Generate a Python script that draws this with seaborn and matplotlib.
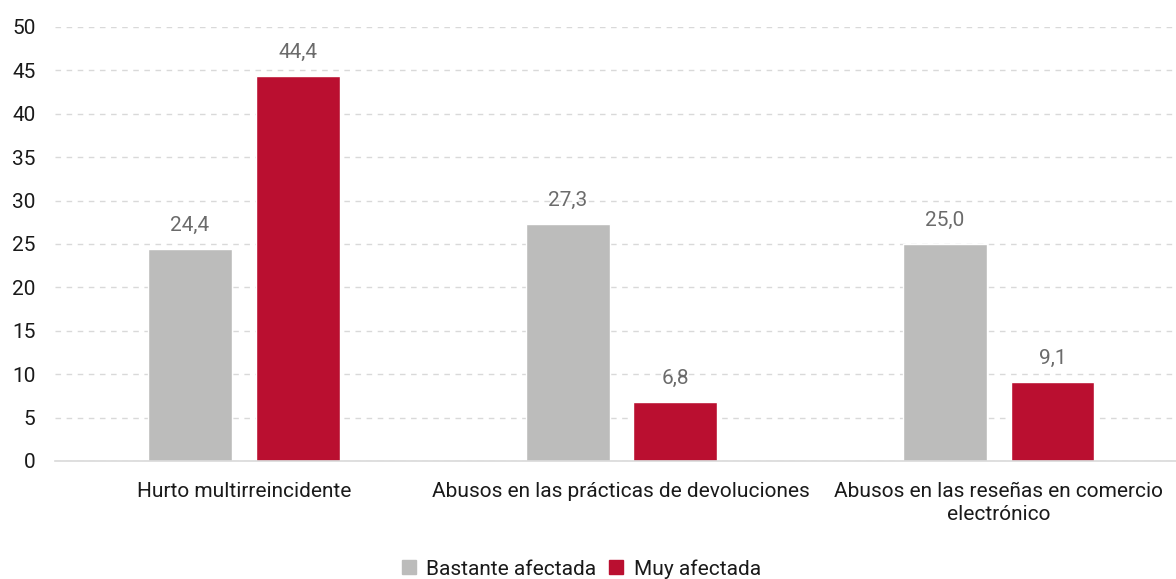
import matplotlib
matplotlib.use("Agg")
import matplotlib.pyplot as plt
import seaborn as sns
import pandas as pd
from matplotlib.lines import Line2D

categories = ["Hurto multirreincidente",
              "Abusos en las prácticas de devoluciones",
              "Abusos en las reseñas en comercio\nelectrónico"]
series_names = ["Bastante afectada", "Muy afectada"]
bastante = [24.4, 27.3, 25.0]
muy = [44.4, 6.8, 9.1]
colors = ["#bcbcbb", "#ba0f30"]

rows = []
for c, b, m in zip(categories, bastante, muy):
    rows.append({"cat": c, "serie": series_names[0], "val": b})
    rows.append({"cat": c, "serie": series_names[1], "val": m})
df = pd.DataFrame(rows)

sns.set_theme(style="white")
plt.rcParams['font.family'] = ['Roboto', 'DejaVu Sans']

fig = plt.figure(figsize=(11.76, 5.79), dpi=100)
ax = fig.add_axes([0.0468, 0.2038, 0.963, 0.7496])

sns.barplot(data=df, x="cat", y="val", hue="serie", palette=colors,
            width=0.5695, gap=0.219, ax=ax, legend=False, errorbar=None,
            saturation=1)

for cont in ax.containers:
    ax.bar_label(cont, labels=[f"{v:.1f}".replace(".", ",") for v in cont.datavalues],
                 padding=10, fontsize=15, color="#6b6b6b")

ax.set_ylim(0, 50)
ax.set_yticks(range(0, 51, 5))
ax.set_xlim(-0.5, 2.5)
ax.set_xlabel("")
ax.set_ylabel("")
ax.yaxis.grid(True, linestyle=(0, (4, 4)), color="#d9d9d9", linewidth=1)
ax.set_axisbelow(True)
for s in ["top", "right", "left"]:
    ax.spines[s].set_visible(False)
ax.spines["bottom"].set_color("#d9d9d9")
ax.spines["bottom"].set_linewidth(1.2)
ax.tick_params(axis="y", length=0, labelsize=15, labelcolor="#1a1a1a", pad=14)
ax.tick_params(axis="x", length=0, labelsize=15, labelcolor="#1a1a1a", pad=15)
for lbl in ax.get_xticklabels():
    lbl.set_linespacing(1.3)

handles = [Line2D([], [], marker="s", linestyle="", markersize=10,
                  markerfacecolor=c, markeredgecolor=c) for c in colors]
fig.legend(handles, series_names, loc="lower center", bbox_to_anchor=(0.493, -0.032),
           ncol=2, frameon=False, fontsize=15, handletextpad=0.35, handlelength=1.0,
           columnspacing=0.45, labelcolor="#1a1a1a")

fig.savefig("out.png", dpi=100)
